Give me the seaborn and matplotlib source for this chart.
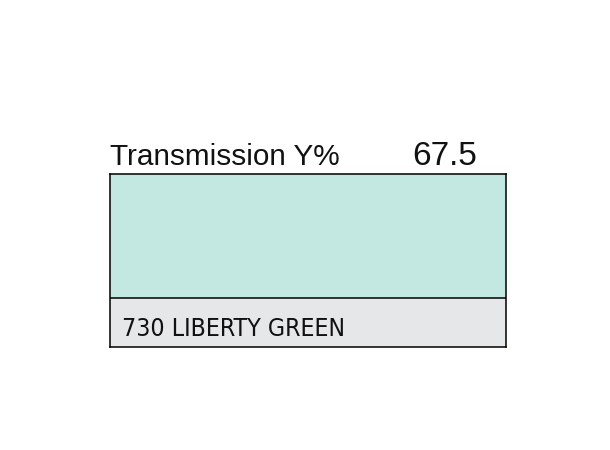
import numpy as np
import matplotlib.pyplot as plt
import seaborn as sns
from matplotlib.colors import ListedColormap

# swatch data
filter_name = "730 LIBERTY GREEN"
transmission = 67.5
swatch_color = "#c3e8e1"
label_color = "#e6e7e8"
band_rows = [124, 49]  # pixel height of colour band / name band

sns.set_theme(style="white")
plt.rcParams['font.family'] = ['Liberation Sans', 'DejaVu Sans']

fig = plt.figure(figsize=(6.1, 4.5), dpi=100)
ax = fig.add_axes([110 / 610, 1 - 347 / 450, 396 / 610, 173 / 450])

grid = np.repeat([[0], [1]], band_rows, axis=0)
sns.heatmap(grid, ax=ax, cmap=ListedColormap([swatch_color, label_color]),
            cbar=False, xticklabels=False, yticklabels=False)
ax.axhline(band_rows[0], color="black", lw=1.1)
for s in ax.spines.values():
    s.set_visible(True)
    s.set_color("black")
    s.set_linewidth(1.1)

fig.text(110 / 610, 1 - 165 / 450, "Transmission Y%", fontsize=21.4,
         ha="left", va="baseline", color="#111111")
fig.text(477 / 610, 1 - 165 / 450, f"{transmission}", fontsize=24,
         ha="right", va="baseline", color="#111111")
fig.text(122 / 610, 1 - 336 / 450, filter_name, fontsize=17.8,
         family=['DejaVu Sans'], fontstretch='condensed',
         ha="left", va="baseline", color="#111111")

fig.savefig("out.png", dpi=100)
